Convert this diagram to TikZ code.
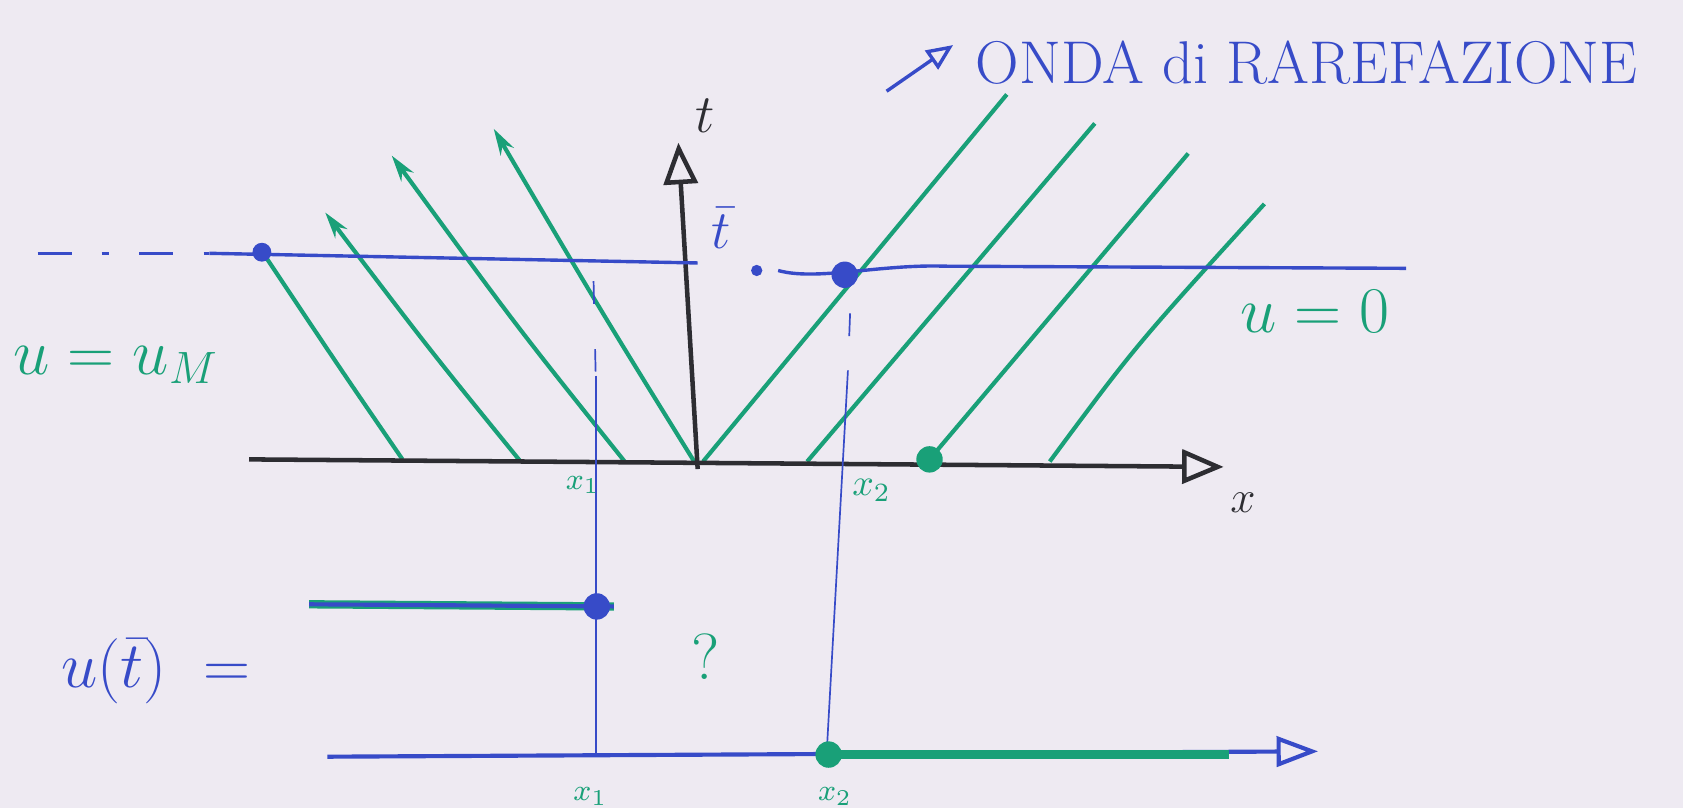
\documentclass[tikz,border=0pt]{standalone}
\usetikzlibrary{arrows.meta}
\definecolor{pgreen}{RGB}{25,160,120}
\definecolor{pblue}{RGB}{55,75,200}
\definecolor{pdark}{RGB}{45,45,50}
\definecolor{pbg}{RGB}{238,234,242}
\tikzset{
  charline/.style={pgreen, line width=1.1pt},
  charup/.style={charline, -{Stealth[length=7pt,width=4pt]}},
  axisline/.style={pdark, line width=1.2pt, -{Triangle[open,length=11pt,width=9pt]}},
  levelline/.style={pblue, line width=0.9pt},
  guideline/.style={pblue, line width=0.45pt},
  greenlbl/.style={text=pgreen, inner sep=1pt},
  bluelbl/.style={text=pblue, inner sep=1pt},
  dotb/.style={circle, fill=pblue, inner sep=0pt, minimum size=5pt},
  dotg/.style={circle, fill=pgreen, inner sep=0pt, minimum size=7pt},
}
\begin{document}
\begin{tikzpicture}[x=0.1mm,y=-0.1mm]
\fill[pbg] (0,0) rectangle (1568,753);
\useasboundingbox (0,0) rectangle (1568,753);

% axes
\coordinate (xa0) at (232,428);
\coordinate (xa1) at (1140,435);
\coordinate (ta0) at (650,437);
\coordinate (ta1) at (632,133);

% characteristics (foot, head)
\coordinate (l1a) at (375,428); \coordinate (l1b) at (244,234);
\coordinate (l2a) at (485,430); \coordinate (l2b) at (303,198);
\coordinate (l3a) at (582,430); \coordinate (l3b) at (365,145);
\coordinate (l4a) at (648,432); \coordinate (l4b) at (460,120);
\coordinate (r1a) at (655,430); \coordinate (r1b) at (938,88);
\coordinate (r2a) at (752,430); \coordinate (r2b) at (1020,115);
\coordinate (r3a) at (866,428); \coordinate (r3b) at (1107,143);
\coordinate (r4a) at (978,430); \coordinate (r4b) at (1178,190);

\draw[charline] (l1a) .. controls (318,345) .. (l1b);
\draw[charup] (l2a) .. controls (402,328) .. (l2b);
\draw[charup] (l3a) .. controls (482,305) .. (l3b);
\draw[charup] (l4a) .. controls (560,290) .. (l4b);
\draw[charline] (r1a) -- (r1b);
\draw[charline] (r2a) -- (r2b);
\draw[charline] (r3a) -- (r3b);
\draw[charline] (r4a) .. controls (1058,322) .. (r4b);

\draw[axisline] (xa0) -- (xa1);
\draw[axisline] (ta0) -- (ta1);

% level t = bar t
\coordinate (h0) at (35,236);
\coordinate (h1) at (195,236);
\coordinate (h2) at (650,245);
\coordinate (h3) at (725,252);
\coordinate (h4) at (1310,250);
\draw[levelline, dash pattern=on 9pt off 8pt on 2pt off 8pt] (h0) -- (h1);
\draw[levelline] (h1) -- (h2);
\node[dotb, minimum size=3pt] (hdot) at (705,252) {};
\draw[levelline] (h3) .. controls (760,262) and (820,246) .. (880,248) -- (h4);
\node[dotb] (p1) at (244,235) {};
\node[dotb, minimum size=7pt] (p2) at (787,256) {};

% vertical guides
\coordinate (v1a) at (553,262);
\coordinate (v1b) at (555,350);
\coordinate (v1c) at (555,705);
\coordinate (v2a) at (792,292);
\coordinate (v2b) at (790,345);
\coordinate (v2c) at (770,705);
\draw[guideline, dash pattern=on 6pt off 12pt] (v1a) -- (v1b);
\draw[guideline] (v1b) -- (v1c);
\draw[guideline, dash pattern=on 6pt off 12pt] (v2a) -- (v2b);
\draw[guideline] (v2b) -- (v2c);

% green dot on x axis
\node[dotg] (g1) at (866,428) {};

% bottom graph
\coordinate (b0) at (305,705);
\coordinate (b1) at (1228,700);
\draw[pblue, line width=1.1pt, -{Triangle[open,length=11pt,width=8pt]}] (b0) -- (b1);
\coordinate (s0) at (288,563);
\coordinate (s1) at (572,565);
\draw[pgreen, line width=2.2pt] (s0) -- (s1);
\draw[pblue, line width=1.1pt] (s0) -- (s1);
\node[dotb, minimum size=7pt] (sd) at (556,565) {};
\coordinate (z0) at (772,703);
\coordinate (z1) at (1145,703);
\draw[pgreen, line width=2.2pt] (z0) -- (z1);
\node[dotg] (zd) at (772,703) {};

% labels
\node[text=pdark, font=\Large] (tl) at (657,108) {$t$};
\node[text=pdark, font=\large] (xl) at (1158,468) {$x$};
\node[bluelbl, font=\Large] (el) at (672,213) {$\bar{t}$};
\node[greenlbl, font=\footnotesize] (x1t) at (543,452) {$x_1$};
\node[greenlbl, font=\normalsize] (x2t) at (812,457) {$x_2$};
\node[greenlbl, font=\footnotesize] (x1b) at (550,742) {$x_1$};
\node[greenlbl, font=\footnotesize] (x2b) at (778,742) {$x_2$};
\node[greenlbl, font=\LARGE] (u0) at (1225,290) {$u = 0$};
\node[greenlbl, font=\LARGE] (um) at (108,340) {$u = u_M$};
\node[bluelbl, font=\LARGE] (ut) at (145,625) {$u(\bar{t})\;=$};
\node[greenlbl, font=\LARGE] (qm) at (657,612) {?};

% top annotation
\node[bluelbl, font=\fontsize{16}{19}\selectfont, anchor=west] (onda) at (905,58) {ONDA di RAREFAZIONE};
\coordinate (oa) at (826,85);
\coordinate (ob) at (888,42);
\draw[pblue, line width=0.9pt, -{Triangle[open,length=7pt,width=6pt]}] (oa) -- (ob);
\end{tikzpicture}
\end{document}
